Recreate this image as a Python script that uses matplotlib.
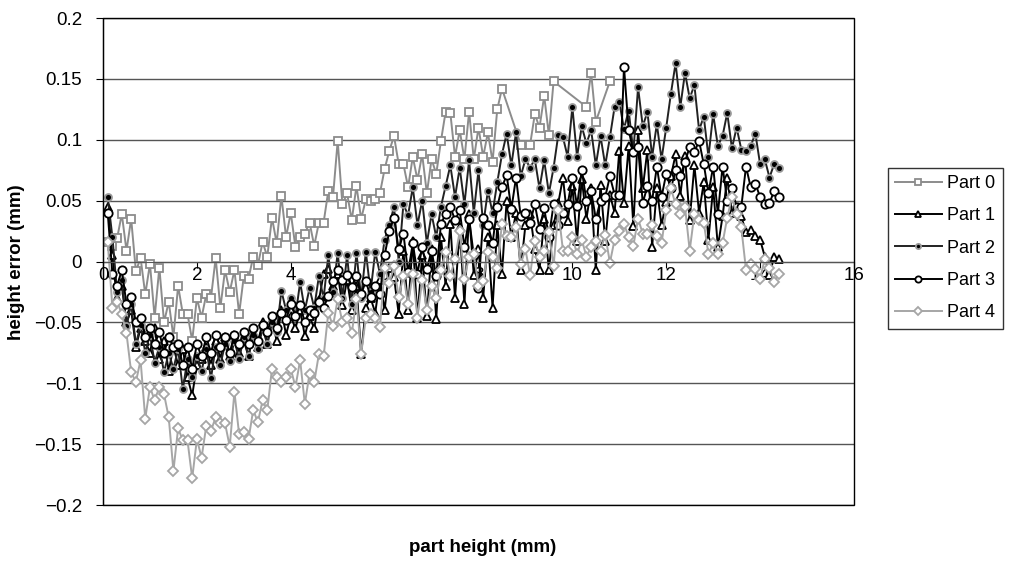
import matplotlib
matplotlib.use("Agg")
import matplotlib.pyplot as plt
import numpy as np
from matplotlib.patches import Rectangle
from matplotlib.ticker import FuncFormatter

plt.rcParams["font.family"] = ["Liberation Sans", "DejaVu Sans"]

# part height of each measured layer (mm), 0.1 mm pitch
layer_mm = np.round(0.1 * np.arange(1, 145), 1)

# Part 0 has gaps above 8.5 mm
part0_x = list(layer_mm[:85]) + [8.9, 9.1, 9.2, 9.3, 9.4, 9.5, 9.6, 10.3, 10.4, 10.5, 10.8]
part0 = [
    0.016, 0.013, 0.019, 0.039, 0.009, 0.035, -0.008, 0.003, -0.027, -0.002,
    -0.046, -0.005, -0.050, -0.033, -0.062, -0.020, -0.043, -0.043, -0.065, -0.030,
    -0.046, -0.027, -0.030, 0.003, -0.038, -0.007, -0.025, -0.007, -0.043, -0.012,
    -0.014, 0.004, -0.003, 0.016, 0.004, 0.036, 0.015, 0.054, 0.020, 0.040,
    0.012, 0.020, 0.023, 0.032, 0.013, 0.032, 0.032, 0.058, 0.053, 0.099,
    0.047, 0.056, 0.034, 0.062, 0.035, 0.051, 0.050, 0.051, 0.056, 0.076,
    0.091, 0.103, 0.080, 0.080, 0.061, 0.086, 0.067, 0.088, 0.056, 0.084,
    0.072, 0.099, 0.123, 0.122, 0.086, 0.108, 0.084, 0.123, 0.084, 0.110,
    0.086, 0.106, 0.082, 0.125, 0.142,
    0.096, 0.096, 0.121, 0.110, 0.136, 0.104, 0.148, 0.127, 0.155, 0.115, 0.148,
]

part1 = [
    0.045, 0.005, -0.030, -0.020, -0.050, -0.040, -0.070, -0.055, -0.065, -0.075,
    -0.055, -0.080, -0.065, -0.090, -0.070, -0.085, -0.072, -0.095, -0.110, -0.085,
    -0.080, -0.070, -0.085, -0.065, -0.080, -0.062, -0.078, -0.060, -0.075, -0.065,
    -0.078, -0.058, -0.070, -0.050, -0.068, -0.048, -0.065, -0.040, -0.060, -0.045,
    -0.055, -0.040, -0.061, -0.045, -0.055, -0.032, -0.010, -0.006, -0.020, -0.010,
    -0.036, -0.015, -0.040, -0.020, -0.076, -0.038, -0.030, -0.042, -0.015, -0.040,
    -0.005, -0.013, -0.043, 0.009, -0.040, 0.017, -0.046, 0.005, -0.045, 0.010,
    -0.047, 0.020, -0.020, 0.031, -0.030, 0.028, -0.035, 0.039, -0.011, 0.010,
    -0.030, 0.020, -0.038, 0.030, -0.010, 0.050, 0.020, 0.040, -0.007, 0.030,
    0.039, 0.010, -0.007, 0.035, -0.007, 0.030, 0.048, 0.069, 0.033, 0.062,
    0.017, 0.068, 0.035, 0.060, -0.007, 0.063, 0.017, 0.055, 0.040, 0.091,
    0.048, 0.095, 0.029, 0.108, 0.060, 0.092, 0.012, 0.060, 0.030, 0.049,
    0.070, 0.088, 0.054, 0.087, 0.034, 0.079, 0.040, 0.065, 0.018, 0.061,
    0.012, 0.037, 0.069, 0.040, 0.043, 0.037, 0.024, 0.026, 0.021, 0.018,
    0.004, -0.011, 0.004, 0.002,
]

part2 = [
    0.053, 0.020, -0.025, -0.015, -0.053, -0.035, -0.068, -0.052, -0.075, -0.060,
    -0.083, -0.070, -0.091, -0.075, -0.088, -0.072, -0.105, -0.080, -0.095, -0.078,
    -0.090, -0.072, -0.096, -0.070, -0.085, -0.068, -0.082, -0.065, -0.080, -0.062,
    -0.078, -0.060, -0.072, -0.055, -0.068, -0.050, -0.058, -0.024, -0.040, -0.030,
    -0.045, -0.017, -0.040, -0.022, -0.038, -0.012, -0.030, 0.005, -0.025, 0.007,
    -0.030, 0.005, -0.035, 0.007, -0.030, 0.008, -0.025, 0.008, -0.010, 0.018,
    0.030, 0.045, 0.000, 0.047, 0.038, 0.061, 0.030, 0.050, 0.015, 0.039,
    0.020, 0.045, 0.062, 0.079, 0.053, 0.077, 0.047, 0.083, 0.040, 0.075,
    0.030, 0.058, 0.040, 0.065, 0.088, 0.105, 0.079, 0.106, 0.070, 0.084,
    0.077, 0.084, 0.060, 0.083, 0.056, 0.077, 0.104, 0.102, 0.086, 0.127,
    0.086, 0.111, 0.097, 0.108, 0.079, 0.103, 0.079, 0.102, 0.127, 0.131,
    0.109, 0.124, 0.090, 0.143, 0.111, 0.123, 0.086, 0.113, 0.084, 0.110,
    0.138, 0.163, 0.127, 0.155, 0.134, 0.145, 0.108, 0.119, 0.086, 0.121,
    0.095, 0.103, 0.122, 0.093, 0.110, 0.092, 0.091, 0.095, 0.105, 0.080,
    0.084, 0.069, 0.080, 0.077,
]

part3 = [
    0.040, -0.010, -0.020, -0.007, -0.035, -0.029, -0.050, -0.046, -0.062, -0.055,
    -0.068, -0.058, -0.075, -0.062, -0.070, -0.068, -0.085, -0.070, -0.088, -0.068,
    -0.078, -0.062, -0.075, -0.060, -0.070, -0.062, -0.075, -0.060, -0.068, -0.058,
    -0.068, -0.055, -0.065, -0.052, -0.058, -0.045, -0.055, -0.042, -0.048, -0.035,
    -0.045, -0.036, -0.050, -0.040, -0.042, -0.033, -0.038, -0.028, -0.016, -0.007,
    -0.015, -0.011, -0.021, -0.012, -0.027, -0.016, -0.029, -0.020, -0.027, 0.005,
    0.025, 0.036, 0.010, 0.023, -0.009, 0.015, -0.010, 0.012, -0.006, 0.009,
    -0.012, 0.031, 0.039, 0.045, 0.034, 0.042, 0.012, 0.035, 0.005, -0.022,
    0.036, 0.030, 0.015, 0.045, 0.061, 0.071, 0.043, 0.069, 0.037, 0.040,
    0.032, 0.047, 0.027, 0.044, 0.020, 0.047, 0.030, 0.040, 0.047, 0.069,
    0.046, 0.075, 0.050, 0.058, 0.035, 0.050, 0.053, 0.070, 0.055, 0.055,
    0.160, 0.108, 0.090, 0.094, 0.048, 0.062, 0.050, 0.078, 0.053, 0.072,
    0.060, 0.075, 0.070, 0.082, 0.094, 0.090, 0.099, 0.080, 0.056, 0.078,
    0.039, 0.078, 0.050, 0.060, 0.045, 0.045, 0.078, 0.061, 0.064, 0.053,
    0.047, 0.048, 0.058, 0.053,
]

part4 = [
    0.016, -0.038, -0.033, -0.043, -0.059, -0.091, -0.099, -0.081, -0.129, -0.103,
    -0.114, -0.103, -0.109, -0.128, -0.172, -0.137, -0.147, -0.147, -0.178, -0.146,
    -0.161, -0.135, -0.139, -0.128, -0.133, -0.133, -0.152, -0.107, -0.142, -0.140,
    -0.146, -0.122, -0.132, -0.114, -0.122, -0.088, -0.095, -0.099, -0.095, -0.088,
    -0.103, -0.081, -0.117, -0.092, -0.099, -0.076, -0.078, -0.042, -0.053, -0.031,
    -0.050, -0.046, -0.059, -0.031, -0.076, -0.046, -0.043, -0.046, -0.054, -0.005,
    -0.018, -0.004, -0.029, -0.012, -0.035, -0.010, -0.046, -0.015, -0.040, -0.020,
    -0.030, -0.007, 0.008, -0.012, 0.002, 0.025, -0.014, 0.004, 0.006, -0.020,
    -0.016, 0.008, 0.004, -0.005, 0.031, 0.021, 0.020, 0.028, -0.002, 0.010,
    -0.011, 0.017, 0.004, 0.009, 0.024, -0.004, 0.042, 0.009, 0.009, 0.020,
    0.006, 0.018, 0.004, 0.012, 0.017, 0.009, 0.022, -0.001, 0.018, 0.025,
    0.031, 0.020, 0.013, 0.035, 0.023, 0.023, 0.030, 0.021, 0.015, 0.042,
    0.060, 0.047, 0.039, 0.045, 0.009, 0.039, 0.034, 0.032, 0.006, 0.015,
    0.006, 0.015, 0.036, 0.053, 0.039, 0.028, -0.007, -0.002, -0.006, -0.014,
    0.002, -0.005, -0.017, -0.010,
]


def fmt_err(v, pos):
    v = round(v, 2) + 0.0
    return ("%g" % v).replace("-", "\u2212")


fig = plt.figure(figsize=(10.1, 5.63), dpi=100)
ax = fig.add_axes([0.102, 0.103, 0.7435, 0.865])

ax.set_xlim(0, 16)
ax.set_ylim(-0.2, 0.2)

ax.set_yticks(np.arange(-0.2, 0.2001, 0.05))
ax.yaxis.set_major_formatter(FuncFormatter(fmt_err))
ax.set_xticks(np.arange(0, 17, 2))
ax.grid(axis="y", color="#555555", lw=1.0)
ax.set_axisbelow(True)

for s in ["top", "right"]:
    ax.spines[s].set_visible(False)
ax.spines["bottom"].set_position(("data", 0))
ax.spines["bottom"].set_color("#555555")
ax.add_patch(Rectangle((0, 0), 1, 1, transform=ax.transAxes, fill=False,
                       ec="black", lw=1.0, clip_on=False, zorder=5))
ax.tick_params(axis="x", direction="out", length=4, labelsize=13.5, pad=0)
ax.tick_params(axis="y", direction="out", length=5, labelsize=13.5, pad=10)

ms = 6
ax.plot(part0_x, part0, "-s", color="#8c8c8c", lw=1.4, ms=ms, mfc="white",
        mec="#8c8c8c", mew=1.3, label="Part 0")
ax.plot(layer_mm, part1, "-^", color="black", lw=1.4, ms=ms, mfc="white",
        mec="black", mew=1.3, label="Part 1")
ax.plot(layer_mm, part2, "-o", color="#222222", lw=1.4, ms=5, mfc="black",
        mec="#999999", mew=1.3, label="Part 2")
ax.plot(layer_mm, part3, "-o", color="black", lw=1.4, ms=ms, mfc="white",
        mec="black", mew=1.3, label="Part 3")
ax.plot(layer_mm, part4, "-D", color="#a6a6a6", lw=1.4, ms=5, mfc="white",
        mec="#a6a6a6", mew=1.3, label="Part 4")

fig.text(0.016, 0.535, "height error (mm)", fontsize=13.5, fontweight="bold",
         ha="center", va="center", rotation=90)
fig.text(0.478, 0.027, "part height (mm)", fontsize=13.5, fontweight="bold",
         ha="center", va="center")

leg = fig.legend(loc="upper left", bbox_to_anchor=(0.879, 0.702), fontsize=13,
                 frameon=True, fancybox=False, edgecolor="black",
                 handlelength=2.6, borderpad=0.4, labelspacing=0.85,
                 handletextpad=0.3, borderaxespad=0, markerscale=0.75)
leg.get_frame().set_linewidth(1.0)

fig.savefig("out.png", dpi=100)
